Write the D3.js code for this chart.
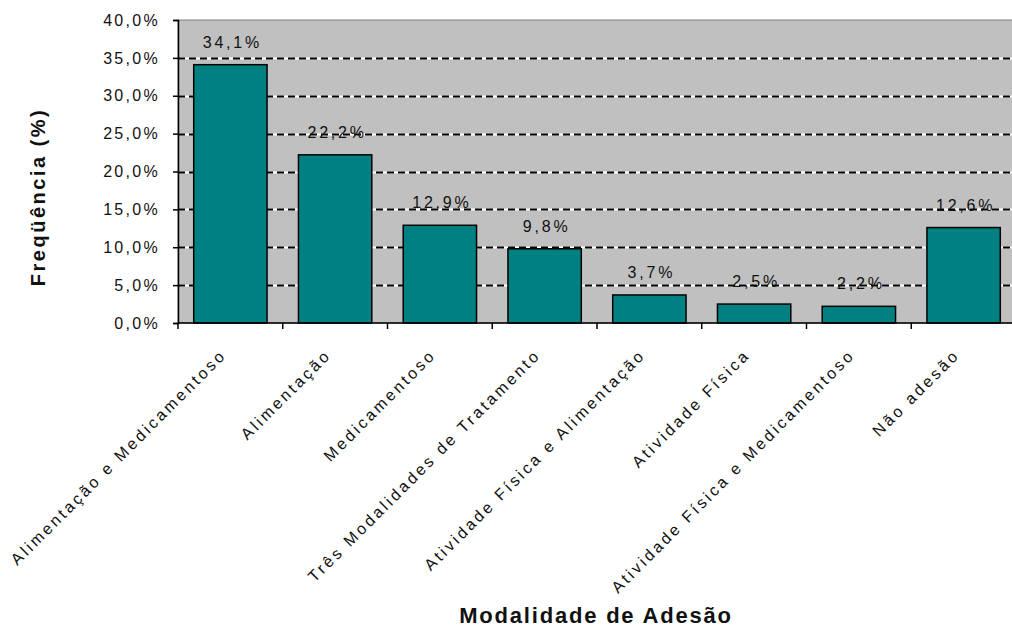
<!DOCTYPE html>
<html>
<head>
<meta charset="utf-8">
<script src="https://cdn.jsdelivr.net/npm/d3@7"></script>
<style>
  html, body { margin: 0; padding: 0; background: #ffffff; }
  svg { display: block; font-family: "Liberation Sans", Arial, sans-serif; }
</style>
</head>
<body>
<svg id="chart" width="1012" height="628"></svg>
<script>
// Modalidade de adesão ao tratamento – frequência (%)
const categories = [
  "Alimentação e Medicamentoso",
  "Alimentação",
  "Medicamentoso",
  "Três Modalidades de Tratamento",
  "Atividade Física e Alimentação",
  "Atividade Física",
  "Atividade Física e Medicamentoso",
  "Não adesão"
];
const values = [34.1, 22.2, 12.9, 9.8, 3.7, 2.5, 2.2, 12.6];
const yTicks = [0, 5, 10, 15, 20, 25, 30, 35, 40];
const yTitle = "Freqüência (%)";
const xTitle = "Modalidade de Adesão";

const fmt = v => v.toFixed(1).replace(".", ",") + "%";

const svg = d3.select("#chart");
const plot = { left: 178, right: 1016, top: 20, bottom: 323 };

const x = d3.scaleBand().domain(categories).range([plot.left, plot.right]).paddingInner(0.3).paddingOuter(0.15);
const y = d3.scaleLinear().domain([0, 40]).range([plot.bottom, plot.top]);

// plot area
svg.append("rect")
  .attr("x", plot.left).attr("y", plot.top)
  .attr("width", plot.right - plot.left).attr("height", plot.bottom - plot.top)
  .attr("fill", "#c0c0c0")
  .attr("stroke", "#808080").attr("stroke-width", 1);

// dashed gridlines: white base with black dashes
const grid = svg.append("g");
const gridVals = yTicks.filter(v => v > 0 && v < 40);
grid.selectAll("line.base").data(gridVals).join("line")
  .attr("class", "base")
  .attr("x1", plot.left).attr("x2", plot.right)
  .attr("y1", d => Math.round(y(d)) + 0.5).attr("y2", d => Math.round(y(d)) + 0.5)
  .attr("stroke", "#ffffff").attr("stroke-width", 2);
grid.selectAll("line.dash").data(gridVals).join("line")
  .attr("class", "dash")
  .attr("x1", plot.left).attr("x2", plot.right)
  .attr("y1", d => Math.round(y(d)) + 0.5).attr("y2", d => Math.round(y(d)) + 0.5)
  .attr("stroke", "#000000").attr("stroke-width", 2)
  .attr("stroke-dasharray", "7,4");

// bars
svg.append("g").selectAll("rect").data(values).join("rect")
  .attr("x", (d, i) => x(categories[i]))
  .attr("y", d => y(d))
  .attr("width", x.bandwidth())
  .attr("height", d => y(0) - y(d))
  .attr("fill", "#008080")
  .attr("stroke", "#000000").attr("stroke-width", 1.5);

// value labels
svg.append("g").selectAll("text").data(values).join("text")
  .attr("x", (d, i) => x(categories[i]) + x.bandwidth() / 2 + 2)
  .attr("y", d => y(d) - 17)
  .attr("text-anchor", "middle")
  .attr("font-size", 16)
  .attr("letter-spacing", 2.8)
  .attr("fill", "#111")
  .text(d => fmt(d));

// y axis
const yAxis = d3.axisLeft(y).tickValues(yTicks).tickSize(5).tickPadding(13).tickFormat(d => fmt(d));
const gy = svg.append("g").attr("transform", `translate(${plot.left},0)`).call(yAxis);
gy.select(".domain").attr("stroke", "#000").attr("stroke-width", 1.5);
gy.selectAll(".tick line").attr("stroke", "#000").attr("stroke-width", 1.5);
gy.selectAll(".tick text")
  .attr("font-size", 16)
  .attr("letter-spacing", 2.3)
  .attr("font-family", "Liberation Sans, Arial, sans-serif")
  .attr("fill", "#111");

// x axis: ticks on band boundaries
const boundaries = categories.map(c => x(c) - x.step() * x.paddingInner() / 2);
const gx = svg.append("g");
gx.append("line")
  .attr("x1", plot.left).attr("x2", plot.right)
  .attr("y1", plot.bottom).attr("y2", plot.bottom)
  .attr("stroke", "#000").attr("stroke-width", 1.5);
gx.selectAll("line.tick").data(boundaries).join("line")
  .attr("class", "tick")
  .attr("x1", d => d).attr("x2", d => d)
  .attr("y1", plot.bottom).attr("y2", plot.bottom + 6)
  .attr("stroke", "#000").attr("stroke-width", 1.5);

gx.selectAll("text").data(categories).join("text")
  .attr("transform", d => `translate(${x(d) + x.bandwidth() / 2 - 3},${plot.bottom + 33}) rotate(-45)`)
  .attr("text-anchor", "end")
  .attr("font-size", 16)
  .attr("letter-spacing", 2.9)
  .attr("fill", "#111")
  .text(d => d);

// axis titles
svg.append("text")
  .attr("transform", `translate(45,197) rotate(-90)`)
  .attr("text-anchor", "middle")
  .attr("font-size", 20)
  .attr("font-weight", "bold")
  .attr("letter-spacing", 2.5)
  .attr("fill", "#111")
  .text(yTitle);

svg.append("text")
  .attr("x", 596).attr("y", 623)
  .attr("text-anchor", "middle")
  .attr("font-size", 22)
  .attr("font-weight", "bold")
  .attr("letter-spacing", 1.8)
  .attr("fill", "#111")
  .text(xTitle);
</script>
</body>
</html>
